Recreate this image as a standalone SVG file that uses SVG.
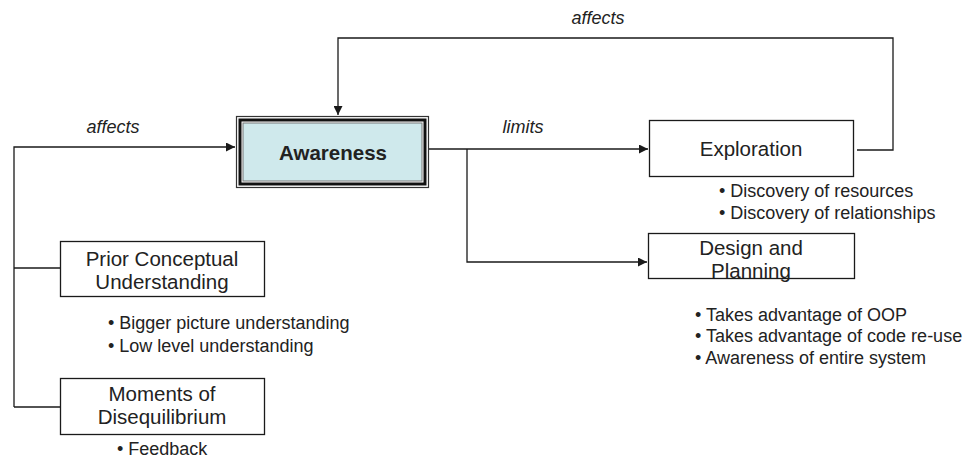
<svg xmlns="http://www.w3.org/2000/svg" width="977" height="465" viewBox="0 0 977 465">
  <style>
    .box { fill: #ffffff; stroke: #1a1a1a; stroke-width: 1.3; }
    .wire { fill: none; stroke: #1a1a1a; stroke-width: 1.3; }
    .label { font-family: "Liberation Sans", Arial, sans-serif; font-size: 20.5px; fill: #222222; text-anchor: middle; }
    .bullet { font-family: "Liberation Sans", Arial, sans-serif; font-size: 18px; fill: #222222; }
    .edge { font-family: "Liberation Sans", Arial, sans-serif; font-size: 18px; font-style: italic; fill: #222222; text-anchor: middle; }
  </style>
  <defs>
    <marker id="arrow" viewBox="0 0 10 10" refX="10" refY="5" markerWidth="9" markerHeight="9" markerUnits="userSpaceOnUse" orient="auto">
      <path d="M0,0 L10,5 L0,10 z" fill="#1a1a1a"/>
    </marker>
  </defs>
  <rect width="977" height="465" fill="#ffffff"/>

  <g id="connectors">
    <!-- feedback loop from Exploration back to Awareness -->
    <polyline class="wire" points="857,150 893,150 893,38 338,38 338,115" marker-end="url(#arrow)"/>
    <!-- left trunk feeding Awareness -->
    <polyline class="wire" points="14,407 14,147 235,147" marker-end="url(#arrow)"/>
    <line class="wire" x1="14" y1="268" x2="60" y2="268"/>
    <line class="wire" x1="14" y1="407" x2="60" y2="407"/>
    <!-- Awareness to Exploration -->
    <line class="wire" x1="429" y1="149" x2="648" y2="149" marker-end="url(#arrow)"/>
    <!-- branch down to Design and Planning -->
    <polyline class="wire" points="467,149 467,262 647,262" marker-end="url(#arrow)"/>
    <text class="edge" x="598" y="24">affects</text>
    <text class="edge" x="113" y="133">affects</text>
    <text class="edge" x="523" y="133">limits</text>
  </g>

  <g id="awareness">
    <rect x="236.5" y="116.5" width="192" height="71" fill="#ffffff" stroke="#333333" stroke-width="1.2"/>
    <rect x="240" y="120" width="185" height="64" fill="none" stroke="#111111" stroke-width="3"/>
    <rect x="243" y="123" width="179" height="58" fill="#cfe9ec" stroke="#777777" stroke-width="1"/>
    <text class="label" x="333" y="160" font-size="21.5" font-weight="bold" fill="#1a1a1a">Awareness</text>
  </g>

  <g id="exploration">
    <rect class="box" x="649.5" y="120.5" width="204" height="56"/>
    <text class="label" x="751" y="156" font-size="21.5">Exploration</text>
    <text class="bullet" x="719" y="197">• Discovery of resources</text>
    <text class="bullet" x="719" y="219">• Discovery of relationships</text>
  </g>

  <g id="design-planning">
    <rect class="box" x="648.5" y="233.5" width="206" height="45"/>
    <text class="label" x="751" y="255">Design and</text>
    <text class="label" x="751" y="278">Planning</text>
    <text class="bullet" x="695" y="321">• Takes advantage of OOP</text>
    <text class="bullet" x="695" y="342">• Takes advantage of code re-use</text>
    <text class="bullet" x="695" y="364">• Awareness of entire system</text>
  </g>

  <g id="prior-understanding">
    <rect class="box" x="60.5" y="241.5" width="204" height="55"/>
    <text class="label" x="162" y="266">Prior Conceptual</text>
    <text class="label" x="162" y="289">Understanding</text>
    <text class="bullet" x="108" y="329">• Bigger picture understanding</text>
    <text class="bullet" x="108" y="352">• Low level understanding</text>
  </g>

  <g id="disequilibrium">
    <rect class="box" x="60.5" y="378.5" width="204" height="56"/>
    <text class="label" x="162" y="401">Moments of</text>
    <text class="label" x="162" y="424">Disequilibrium</text>
    <text class="bullet" x="117" y="455">• Feedback</text>
  </g>
</svg>
